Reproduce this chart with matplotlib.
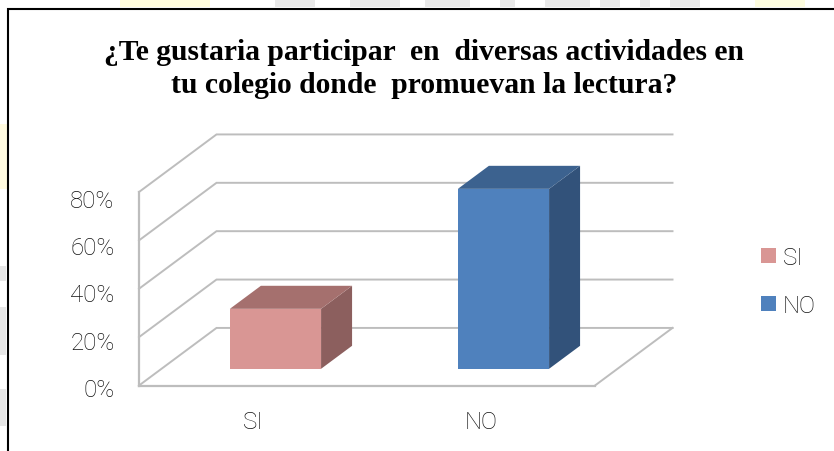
import matplotlib
matplotlib.use("Agg")
import matplotlib.pyplot as plt
from matplotlib.lines import Line2D
from matplotlib.patches import Patch, Polygon, Rectangle

W, H = 834, 452

categories = ["SI", "NO"]
values = [24.8, 74.4]
y_ticks = [0, 20, 40, 60, 80]
title = "¿Te gustaria participar  en  diversas actividades en\ntu colegio donde  promuevan la lectura?"

colors_front = ["#D99694", "#4F81BD"]
colors_top = ["#A5706E", "#3C628F"]
colors_side = ["#8C5F5E", "#32527A"]
grid_color = "#BDBDBD"
text_color = "#111111"
label_font = {"family": "Roboto", "weight": "light", "size": 17.3}

# oblique projection, depth 0..1 shifts the point back and up
shear_x = 77.5 / 228
shear_y = 23.8
bar_width = 0.4
bar_depth = (0.29, 0.69)


def proj(x, y, d):
    return (x + d * shear_x, y + d * shear_y)


fig = plt.figure(figsize=(W / 100, H / 100), dpi=100)


def px_rect(x0, y0, x1, y1, color, alpha=1.0):
    fig.add_artist(Rectangle((x0 / W, 1 - y1 / H), (x1 - x0) / W, (y1 - y0) / H,
                             transform=fig.transFigure, color=color, alpha=alpha, lw=0))


# bits of the page behind the chart
px_rect(120, 0, 210, 8, "#FFFBC8", 0.6)
px_rect(755, 0, 805, 8, "#FDFBCB", 0.6)
px_rect(0, 125, 7, 190, "#FFF6B8", 0.45)
for x0, x1 in [(275, 315), (350, 400), (425, 470), (500, 515), (545, 590), (600, 620), (640, 650), (670, 700)]:
    px_rect(x0, 0, x1, 8, "#C8C8C8", 0.4)
for y0, y1 in [(267, 282), (308, 356), (390, 427)]:
    px_rect(0, y0, 6, y1, "#C8C8C8", 0.45)

# black frame, open to the right and bottom
fig.add_artist(Line2D([7.7 / W, 7.7 / W, 1], [0, 1 - 9.5 / H, 1 - 9.5 / H],
                      transform=fig.transFigure, color="black", lw=1.5,
                      solid_joinstyle="miter"))

ax = fig.add_axes([139 / W, 1 - 386.5 / H, 456 / W, 193.5 / H])
ax.set_xlim(0, 2)
ax.set_ylim(0, 80)
ax.patch.set_visible(False)

for s in ["top", "right"]:
    ax.spines[s].set_visible(False)
for s in ["left", "bottom"]:
    ax.spines[s].set_color(grid_color)
    ax.spines[s].set_linewidth(1.6)

# gridlines on side wall and back wall
for v in y_ticks:
    pts = [proj(0, v, 0), proj(0, v, 1), proj(2, v, 1)]
    ax.plot([p[0] for p in pts], [p[1] for p in pts], color=grid_color, lw=1.4,
            clip_on=False, zorder=1, solid_joinstyle="miter")
# floor right edge
pts = [proj(2, 0, 0), proj(2, 0, 1)]
ax.plot([p[0] for p in pts], [p[1] for p in pts], color=grid_color, lw=1.4,
        clip_on=False, zorder=1)

# bars
for i, v in enumerate(values):
    x0 = i + 0.5 - bar_width / 2
    x1 = i + 0.5 + bar_width / 2
    d0, d1 = bar_depth
    front = [proj(x0, 0, d0), proj(x1, 0, d0), proj(x1, v, d0), proj(x0, v, d0)]
    top = [proj(x0, v, d0), proj(x1, v, d0), proj(x1, v, d1), proj(x0, v, d1)]
    side = [proj(x1, 0, d0), proj(x1, 0, d1), proj(x1, v, d1), proj(x1, v, d0)]
    ax.add_patch(Polygon(side, closed=True, fc=colors_side[i], ec="none", clip_on=False, zorder=3))
    ax.add_patch(Polygon(top, closed=True, fc=colors_top[i], ec="none", clip_on=False, zorder=3))
    ax.add_patch(Polygon(front, closed=True, fc=colors_front[i], ec="none", clip_on=False, zorder=4))

ax.set_xticks([i + 0.5 for i in range(len(categories))])
ax.set_xticklabels(categories, color=text_color, **label_font)
ax.set_yticks([])
ax.tick_params(axis="x", length=0, pad=18)

# the percent labels sit a little lower and tighter than the gridlines
ax_lab = fig.add_axes([139 / W, 1 - 388 / H, 456 / W, 189 / H], frameon=False)
ax_lab.set_ylim(0, 80)
ax_lab.set_xticks([])
ax_lab.set_yticks(y_ticks)
ax_lab.set_yticklabels([f"{v}%" for v in y_ticks], color=text_color, **label_font)
ax_lab.tick_params(axis="y", length=0, pad=17.5)

fig.text(424 / W, 1 - 69 / H, title, ha="center", va="center", fontfamily="Liberation Serif",
         fontweight="bold", fontsize=21.3, color="black", linespacing=1.28)

handles = [Patch(fc=c, ec="none") for c in colors_front]
fig.legend(handles, categories, loc="center left", bbox_to_anchor=(761 / W, 1 - 282.5 / H),
           frameon=False, prop=label_font, labelcolor=text_color,
           handlelength=0.62, handleheight=0.62, handletextpad=0.3, labelspacing=1.05,
           borderpad=0, borderaxespad=0)

fig.savefig("out.png", dpi=100, facecolor="white")
